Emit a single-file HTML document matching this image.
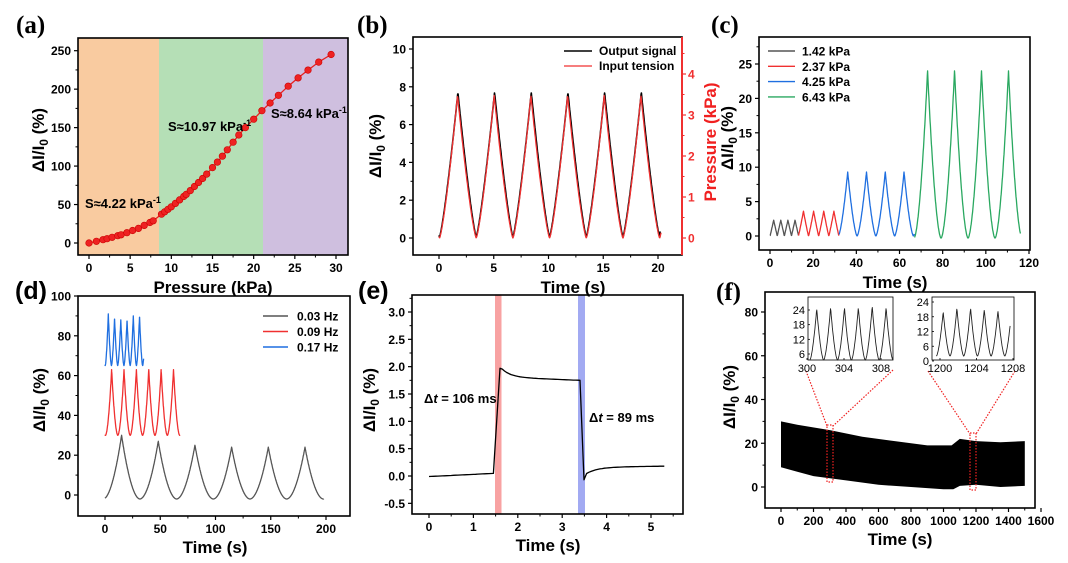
<!DOCTYPE html>
<html><head><meta charset="utf-8"><style>
html,body{margin:0;padding:0;background:#fff;}
svg{display:block;font-family:"Liberation Sans",Arial,sans-serif;font-weight:bold;}
</style></head><body>
<svg id="s" width="1068" height="563" viewBox="0 0 1068 563" xmlns="http://www.w3.org/2000/svg"></svg>
<script>
var out=[];
function P(s){out.push(s);}
function lin(a0,a1,p0,p1){return function(v){return p0+(v-a0)*(p1-p0)/(a1-a0);};}
function poly(pts,col,w,extra){P('<polyline fill="none" stroke="'+col+'" stroke-width="'+w+'" stroke-linejoin="round" '+(extra||'')+' points="'+pts.map(function(p){return p[0].toFixed(1)+','+p[1].toFixed(1);}).join(' ')+'"/>');}
function txt(x,y,s,sz,anchor,col,extra){P('<text x="'+x+'" y="'+y+'" font-size="'+sz+'" text-anchor="'+(anchor||'middle')+'" fill="'+(col||'#000')+'" '+(extra||'')+'>'+s+'</text>');}
function axes(o){
  P('<rect x="'+o.x0+'" y="'+o.y0+'" width="'+(o.x1-o.x0)+'" height="'+(o.y1-o.y0)+'" fill="none" stroke="#000" stroke-width="1.6"/>');
  var fs=o.fs||12;
  o.xt.forEach(function(v){var x=o.xm(v);P('<line x1="'+x+'" y1="'+o.y1+'" x2="'+x+'" y2="'+(o.y1+4)+'" stroke="#000" stroke-width="1.2"/>');txt(x,o.y1+17,o.xf?o.xf(v):v,fs);});
  if(o.xmin)o.xmin.forEach(function(v){var x=o.xm(v);P('<line x1="'+x+'" y1="'+o.y1+'" x2="'+x+'" y2="'+(o.y1+2.5)+'" stroke="#000" stroke-width="1"/>');});
  o.yt.forEach(function(v){var y=o.ym(v);P('<line x1="'+o.x0+'" y1="'+y+'" x2="'+(o.x0-4)+'" y2="'+y+'" stroke="#000" stroke-width="1.2"/>');txt(o.x0-7,y+4.5,o.yf?o.yf(v):v,fs,'end');});
  if(o.ymin)o.ymin.forEach(function(v){var y=o.ym(v);P('<line x1="'+o.x0+'" y1="'+y+'" x2="'+(o.x0-2.5)+'" y2="'+y+'" stroke="#000" stroke-width="1"/>');});
}
function ylab(x,y,sz,col){P('<text transform="translate('+x+','+y+') rotate(-90)" font-size="'+sz+'" text-anchor="middle" fill="'+(col||'#000')+'">ΔI/I<tspan font-size="'+(sz*0.7)+'" dy="4">0</tspan><tspan dy="-4"> (%)</tspan></text>');}
function range(a,b,st){var r=[];for(var v=a;v<=b+1e-9;v+=st)r.push(+v.toFixed(6));return r;}
function serifLab(x,y,s){P('<text x="'+x+'" y="'+y+'" font-size="25" font-family="Liberation Serif,serif" font-weight="bold">'+s+'</text>');}
function sansLab(x,y,s){P('<text x="'+x+'" y="'+y+'" font-size="25">'+s+'</text>');}
function pk(ph,r,p){var t=ph<r?ph/r:(1-ph)/(1-r);return Math.pow(t,p);}

// ===== (a)
(function(){
var xm=lin(0,30,89,336), ym=lin(0,250,243,50.7);
P('<rect x="78" y="38" width="81" height="217" fill="#f9cba0"/>');
P('<rect x="159" y="38" width="104" height="217" fill="#b5dfb6"/>');
P('<rect x="263" y="38" width="85" height="217" fill="#cfbfdf"/>');
var K=[[0,0],[2,5],[4,11],[6,19],[8,30],[8.5,35],[10,47],[12,65],[14,86],[16,110],[18,138],[19,150],[20,161],[21,172],[22,182],[24,202],[26,220],[28,236],[29.4,245]];
function f(p){for(var i=0;i<K.length-1;i++){if(p<=K[i+1][0]){var a=K[i],b=K[i+1];return a[1]+(p-a[0])*(b[1]-a[1])/(b[0]-a[0]);}}return 245;}
var ps=[0,0.9,1.7,2.2,2.8,3.5,3.9,4.6,5.3,6,6.7,7.4,7.8,8.8,9.2,9.6,10,10.5,11,11.5,11.8,12.3,12.8,13.3,13.8,14.3,15,15.6,16.2,16.8,17.5,18.2,19,20,21,22,23,24.2,25.4,26.6,27.9,29.4];
poly(ps.map(function(p){return [xm(p),ym(f(p))];}),'#e82020',1.3);
ps.forEach(function(p){P('<circle cx="'+xm(p).toFixed(1)+'" cy="'+ym(f(p)).toFixed(1)+'" r="3.3" fill="#ee2222" stroke="#c00" stroke-width="0.6"/>');});
axes({x0:78,x1:348,y0:38,y1:255,xm:xm,ym:ym,xt:range(0,30,5),yt:range(0,250,50),xmin:range(2.5,27.5,5),ymin:range(25,225,50)});
txt(85,208,'S≈4.22 kPa<tspan font-size="9" dy="-5">-1</tspan>',13,'start');
txt(168,131,'S≈10.97 kPa<tspan font-size="9" dy="-5">-1</tspan>',13,'start');
txt(271,118,'S≈8.64 kPa<tspan font-size="9" dy="-5">-1</tspan>',13,'start');
ylab(44,140,17);
txt(213,293,'Pressure (kPa)',17);
serifLab(16,33,'(a)');
})();

// ===== (b)
(function(){
var xm=lin(0,20,439,658), ym=lin(0,10,238,49), yr=lin(0,4,238,74);
var T=3.35, pb=[],pr=[];
for(var t=0;t<=20.2;t+=0.03){var ph=((t-0.05)/T)%1; if(ph<0)ph+=1; var v=pk(ph,0.5,1.25);pb.push([xm(t),ym(0.05+7.65*v)]);}
for(var t=0;t<=20.3;t+=0.03){var ph=((t-0.05)/T)%1; if(ph<0)ph+=1; var v=pk(ph,0.49,1.3);pr.push([xm(t),yr(3.48*v)]);}
pb[pb.length-1][1]=ym(0.35);
poly(pb,'#000',1.6);poly(pr,'#f03030',1.3);
axes({x0:413,x1:682,y0:37,y1:255,xm:xm,ym:ym,xt:range(0,20,5),yt:range(0,10,2),xmin:range(-2.5,22.5,5).filter(function(v){return xm(v)>413&&xm(v)<682;}),ymin:range(1,9,2)});
P('<line x1="682" y1="37" x2="682" y2="255" stroke="#f03030" stroke-width="2"/>');
range(0,4,1).forEach(function(v){var y=yr(v);P('<line x1="682" y1="'+y+'" x2="686" y2="'+y+'" stroke="#f03030" stroke-width="1.2"/>');txt(688,y+4.5,v,12,'start','#f03030');});
range(0.5,4.5,1).forEach(function(v){var y=yr(v);P('<line x1="682" y1="'+y+'" x2="684.5" y2="'+y+'" stroke="#f03030" stroke-width="1"/>');});
P('<line x1="564" y1="51" x2="592" y2="51" stroke="#000" stroke-width="1.6"/>');
P('<line x1="564" y1="66" x2="592" y2="66" stroke="#f03030" stroke-width="1.3"/>');
txt(599,55,'Output signal',12,'start');txt(599,70,'Input tension',12,'start');
ylab(381,146,17);
P('<text transform="translate(716,142) rotate(-90)" font-size="17" text-anchor="middle" fill="#f02020">Pressure (kPa)</text>');
txt(573,293,'Time (s)',17);
serifLab(357,33,'(b)');
})();

// ===== (c)
(function(){
var xm=lin(0,120,770,1029), ym=lin(0,25,236,64);
function seg(t0,t1,T,first,amp,base,col,p){var a=[];for(var t=t0;t<=t1;t+=0.1){var ph=((t-first)/T+0.5)%1;if(ph<0)ph+=1;a.push([xm(t),ym(base+amp*pk(ph,0.5,p))]);}poly(a,col,1.3);}
seg(0,13.2,3.3,1.7,2.3,0,'#555',1);
seg(13.2,32,4.7,15.5,3.6,0,'#f03030',1.1);
seg(32,67,8.7,36,9.3,0,'#1f6fe0',1.5);
seg(67,116,12.5,73,24.3,-0.3,'#2aa860',1.7);
axes({x0:759,x1:1030,y0:37,y1:250,xm:xm,ym:ym,xt:range(0,120,20),yt:range(0,25,5),xmin:range(10,110,20),ymin:range(2.5,27.5,5)});
var L=[['1.42 kPa','#555'],['2.37 kPa','#f03030'],['4.25 kPa','#1f6fe0'],['6.43 kPa','#2aa860']];
L.forEach(function(l,i){var y=51+i*15.3;P('<line x1="768" y1="'+y+'" x2="795" y2="'+y+'" stroke="'+l[1]+'" stroke-width="1.4"/>');txt(802,y+4.5,l[0],12,'start');});
ylab(733,138,17);
txt(895,288,'Time (s)',17);
serifLab(711,33,'(c)');
})();

// ===== (d)
(function(){
var xm=lin(0,200,105,326), ym=lin(0,100,495,296);
function seg(t0,t1,T,first,amps,base,lo,col,p){var a=[];for(var t=t0;t<=t1;t+=0.1){var k=Math.floor((t-first)/T+0.5);var ph=((t-first)/T+0.5)-k;var amp=amps[Math.max(0,Math.min(amps.length-1,k))];var l=lo;if(k<0)l=base;a.push([xm(t),ym(l+(amp-l)*pk(ph,0.5,p))]);}poly(a,col,1.3);}
seg(0,198,33.2,15,[30,27,25,24,24,24,24],0,-2,'#555',1.9);
seg(0,68,11.2,6,[63,63,63,63,63,63,63],30,30,'#f03030',1.8);
seg(0,35,5.65,3,[91,89,88,88,90,90,90],65,65,'#1f6fe0',1.6);
axes({x0:78,x1:350,y0:296,y1:516,xm:xm,ym:ym,xt:range(0,200,50),yt:range(0,100,20),xmin:range(-25,225,50).filter(function(v){return xm(v)>78&&xm(v)<350;}),ymin:range(10,90,20)});
var L=[['0.03 Hz','#555'],['0.09 Hz','#f03030'],['0.17 Hz','#1f6fe0']];
L.forEach(function(l,i){var y=316+i*15.5;P('<line x1="263" y1="'+y+'" x2="288" y2="'+y+'" stroke="'+l[1]+'" stroke-width="1.4"/>');txt(297,y+4.5,l[0],12,'start');});
ylab(45,400,17);
txt(215,553,'Time (s)',17);
sansLab(15,299,'(d)');
})();

// ===== (e)
(function(){
var xm=lin(0,5,429,651), ym=lin(0,3,476,312);
P('<rect x="495" y="295" width="6.5" height="219" fill="#f8a2a2"/>');
P('<rect x="578" y="295" width="7" height="219" fill="#a2aaf2"/>');
var a=[];
for(var t=0;t<=1.5;t+=0.05)a.push([xm(t),ym(-0.01+0.06*t/1.5)]);
a.push([xm(1.6),ym(1.97)]);
for(var t=1.65;t<=3.4;t+=0.05)a.push([xm(t),ym(1.75+0.17*Math.exp(-(t-1.62)/0.2)+0.06*(3.4-t)/1.8)]);
a.push([xm(3.49),ym(-0.07)]);
for(var t=3.55;t<=5.3;t+=0.05)a.push([xm(t),ym(0.18-0.14*Math.exp(-(t-3.5)/0.25)-0.02*(5.3-t)/1.8)]);
poly(a,'#000',1.3);
axes({x0:412,x1:683,y0:295,y1:514,xm:xm,ym:ym,xt:range(0,5,1),yt:[-0.5,0,0.5,1,1.5,2,2.5,3],yf:function(v){return v.toFixed(1);},xmin:range(0.5,5.5,1).filter(function(v){return xm(v)<683;}),ymin:range(-0.25,3.25,0.5)});
txt(424,403,'Δ<tspan font-style="italic">t</tspan> = 106 ms',13,'start');
txt(589,422,'Δ<tspan font-style="italic">t</tspan> = 89 ms',13,'start');
ylab(375,400,17);
txt(548,551,'Time (s)',17);
sansLab(358,299,'(e)');
})();

// ===== (f)
(function(){
var xm=lin(0,1600,781,1041), ym=lin(0,80,487,312);
var top=[[0,30],[100,28.5],[300,26],[500,23],[700,21],[900,19],[1050,19],[1100,22],[1200,21],[1350,20.5],[1500,21]];
var bot=[[0,9],[100,7],[200,5],[400,3],[600,1],[800,0],[1000,-1],[1060,-1],[1100,0.5],[1200,1],[1350,0],[1500,0.5]];
var pts=top.map(function(p){return [xm(p[0]),ym(p[1])];}).concat(bot.slice().reverse().map(function(p){return [xm(p[0]),ym(p[1])];}));
P('<polygon fill="#000" points="'+pts.map(function(p){return p[0].toFixed(1)+','+p[1].toFixed(1);}).join(' ')+'"/>');
axes({x0:765,x1:1035,y0:292,y1:508,xm:xm,ym:ym,xt:range(0,1600,200),yt:range(0,80,20),xmin:range(-100,1500,200).filter(function(v){return xm(v)>765;}),ymin:range(10,70,20)});
var d='stroke="#f02020" stroke-width="1.2" stroke-dasharray="1.5,1.5" fill="none"';
P('<rect x="827" y="425" width="6" height="57" '+d+'/>');
P('<rect x="970" y="433" width="6" height="57" '+d+'/>');
P('<line x1="806" y1="371" x2="827" y2="426" '+d+'/>');
P('<line x1="893" y1="370" x2="833" y2="426" '+d+'/>');
P('<line x1="928" y1="371" x2="970" y2="434" '+d+'/>');
P('<line x1="1015" y1="371" x2="976" y2="434" '+d+'/>');
function inset(x0,x1,xm2,ym2,ts,tz,yv,xv,amps,lo){
  P('<rect x="'+x0+'" y="297" width="'+(x1-x0)+'" height="63" fill="#fff" stroke="#000" stroke-width="0.8"/>');
  var a=[];for(var t=ts;t<=tz;t+=0.04){var ph=((t-ts)/1.5);var k=Math.floor(ph);ph-=k;var amp=amps[Math.max(0,Math.min(amps.length-1,k))];a.push([xm2(t),ym2(lo+(amp-lo)*pk(ph,0.5,1.6))]);}
  poly(a,'#222',0.9);
  yv.forEach(function(v){var y=ym2(v);txt(x0-3,y+4,v,11,'end','#000','font-weight="normal"');P('<line x1="'+x0+'" y1="'+y+'" x2="'+(x0+2)+'" y2="'+y+'" stroke="#000" stroke-width="0.8"/>');});
  xv.forEach(function(v){var x=xm2(v);txt(x,372,v,11,'middle','#000','font-weight="normal"');P('<line x1="'+x+'" y1="360" x2="'+x+'" y2="358" stroke="#000" stroke-width="0.8"/>');});
}
inset(808,893,lin(300,308,807,881),lin(24,6,310,354),300.3,309.3,[24,18,12,6],[300,304,308],[24.5,25,25,25,25.5,25],3.5);
inset(932,1014,lin(1200,1208,940,1013),lin(24,0,302,361),1199.6,1207.7,[24,18,12,6,0],[1200,1204,1208],[20,21.5,21.5,21,20.5,20.5],2);
ylab(735,397,17);
txt(900,545,'Time (s)',17);
serifLab(716,300,'(f)');
})();
document.getElementById('s').innerHTML=out.join('');
</script>
</body></html>
